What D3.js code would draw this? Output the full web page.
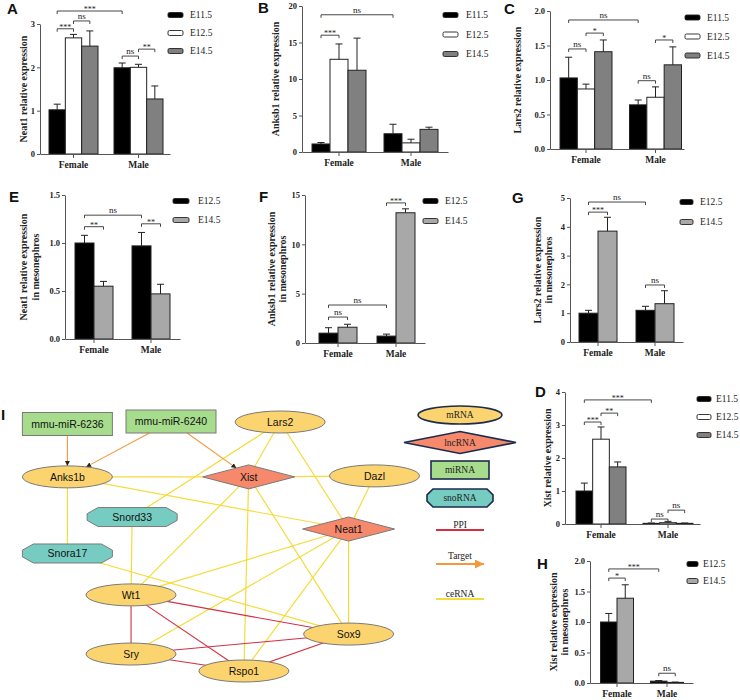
<!DOCTYPE html>
<html>
<head>
<meta charset="utf-8">
<script src="https://cdn.jsdelivr.net/npm/d3@7"></script>
<style>
  body { margin: 0; background: #fff; }
  svg { display: block; }
  .axis path, .axis line { stroke: #555; stroke-width: 1; }
  .axis .tick text { font-family: "Liberation Serif", serif; font-weight: bold; font-size: 8.5px; fill: #222; }
  .xaxis .tick text { font-size: 9.5px; }
  .ylab { font-family: "Liberation Serif", serif; font-weight: bold; font-size: 10px; fill: #222; }
  .leg { font-family: "Liberation Serif", serif; font-size: 9.5px; fill: #222; }
  .sig { font-family: "Liberation Serif", serif; font-size: 9px; fill: #222; }
  .letter { font-family: "Liberation Sans", sans-serif; font-weight: bold; font-size: 15px; fill: #111; }
  .node text { font-family: "Liberation Sans", sans-serif; font-size: 10.5px; fill: #111; }
</style>
</head>
<body>
<div class="chart"></div>
<script>
// ---- data ----
const groups = ['Female', 'Male'];
const stages3 = ['E11.5', 'E12.5', 'E14.5'];
const stages2 = ['E12.5', 'E14.5'];

// gonad (A-D), rows = Female, Male
const neat1Gonad = [[1.02, 2.68, 2.49], [1.99, 2.0, 1.27]];
const neat1GonadErr = [[0.13, 0.08, 0.35], [0.11, 0.07, 0.30]];
const anks1bGonad = [[1.1, 12.7, 11.2], [2.5, 1.25, 3.1]];
const anks1bGonadErr = [[0.2, 2.1, 4.4], [1.3, 0.5, 0.3]];
const lars2Gonad = [[1.03, 0.87, 1.41], [0.64, 0.75, 1.22]];
const lars2GonadErr = [[0.30, 0.07, 0.17], [0.07, 0.15, 0.26]];
const xistGonad = [[1.0, 2.57, 1.73], [0.02, 0.04, 0.02]];
const xistGonadErr = [[0.24, 0.37, 0.15], [0.01, 0.04, 0.01]];

// mesonephros (E-H)
const neat1Meso = [[1.0, 0.55], [0.97, 0.47]];
const neat1MesoErr = [[0.08, 0.05], [0.14, 0.10]];
const anks1bMeso = [[1.0, 1.6], [0.7, 13.2]];
const anks1bMesoErr = [[0.55, 0.3], [0.2, 0.4]];
const lars2Meso = [[1.0, 3.85], [1.1, 1.33]];
const lars2MesoErr = [[0.1, 0.48], [0.14, 0.45]];
const xistMeso = [[1.0, 1.39], [0.03, 0.01]];
const xistMesoErr = [[0.14, 0.22], [0.01, 0.005]];

// significance: [group a, series a, group b, series b, y value, label]
const sigNeat1Gonad = [[0,0,0,1,2.89,'***'],[0,1,0,2,3.07,'ns'],[0,0,1,0,3.3,'***'],[1,0,1,1,2.26,'ns'],[1,1,1,2,2.42,'**']];
const sigAnks1bGonad = [[0,0,0,1,16.0,'***'],[0,0,1,0,18.8,'ns']];
const sigLars2Gonad = [[0,0,1,0,1.87,'ns'],[0,0,0,1,1.45,'ns'],[0,1,0,2,1.68,'*'],[1,0,1,1,0.99,'ns'],[1,1,1,2,1.58,'*']];
const sigXistGonad = [[0,0,0,1,3.09,'***'],[0,1,0,2,3.36,'**'],[0,0,1,0,3.76,'***'],[1,0,1,1,0.15,'ns'],[1,1,1,2,0.42,'ns']];
const sigNeat1Meso = [[0,0,1,0,1.29,'ns'],[0,0,0,1,1.17,'**'],[1,0,1,1,1.2,'**']];
const sigAnks1bMeso = [[0,0,0,1,2.63,'ns'],[0,0,1,0,3.85,'ns'],[1,0,1,1,14.2,'***']];
const sigLars2Meso = [[0,0,1,0,4.86,'ns'],[0,0,0,1,4.51,'***'],[1,0,1,1,1.98,'ns']];
const sigXistMeso = [[0,0,1,0,1.87,'***'],[0,0,0,1,1.72,'*'],[1,0,1,1,0.16,'ns']];

const ticks3 = [0, 1, 2, 3];
const ticks4 = [0, 1, 2, 3, 4];
const ticks5 = [0, 1, 2, 3, 4, 5];
const ticks15 = [0, 5, 10, 15];
const ticks20 = [0, 5, 10, 15, 20];
const ticksHalf15 = [0, 0.5, 1.0, 1.5];
const ticksHalf2 = [0, 0.5, 1.0, 1.5, 2.0];

// network
const nodes = [
  { id: 'mmu-miR-6236', type: 'miRNA' },
  { id: 'mmu-miR-6240', type: 'miRNA' },
  { id: 'Lars2', type: 'mRNA' },
  { id: 'Anks1b', type: 'mRNA' },
  { id: 'Xist', type: 'lncRNA' },
  { id: 'Dazl', type: 'mRNA' },
  { id: 'Snord33', type: 'snoRNA' },
  { id: 'Neat1', type: 'lncRNA' },
  { id: 'Snora17', type: 'snoRNA' },
  { id: 'Wt1', type: 'mRNA' },
  { id: 'Sox9', type: 'mRNA' },
  { id: 'Sry', type: 'mRNA' },
  { id: 'Rspo1', type: 'mRNA' }
];
// layout grid (0-100) for the nodes above
const nodeGrid = {
  'mmu-miR-6236': [12, 1], 'mmu-miR-6240': [40, 0], 'Lars2': [69.5, 0.2],
  'Anks1b': [12, 22.2], 'Xist': [61, 22.2], 'Dazl': [95, 21.8],
  'Snord33': [29.5, 38.3], 'Neat1': [88, 43.1], 'Snora17': [12, 52.9],
  'Wt1': [29.2, 69.5], 'Sox9': [88, 85.2], 'Sry': [29.2, 93.2], 'Rspo1': [59.7, 100]
};
const targetEdges = [['mmu-miR-6236','Anks1b'],['mmu-miR-6240','Anks1b'],['mmu-miR-6240','Xist']];
const ceRNAEdges = [['Anks1b','Xist'],['Xist','Dazl'],['Anks1b','Neat1'],['Anks1b','Snora17'],['Lars2','Snord33'],
  ['Lars2','Xist'],['Lars2','Neat1'],['Dazl','Neat1'],['Snord33','Wt1'],['Snora17','Sox9'],['Xist','Wt1'],
  ['Xist','Rspo1'],['Xist','Sox9'],['Neat1','Wt1'],['Neat1','Sry'],['Neat1','Rspo1'],['Neat1','Sox9']];
const ppiEdges = [['Wt1','Sry'],['Wt1','Rspo1'],['Wt1','Sox9'],['Sry','Sox9'],['Sry','Rspo1'],['Rspo1','Sox9']];
const legendTypes = ['mRNA', 'lncRNA', 'miRNA', 'snoRNA'];
const legendEdges = ['PPI', 'Target', 'ceRNA'];

// ---- styles ----
const gonadFills = ['#000', '#fff', '#808080'];
const mesoFills = ['#000', '#a8a8a8'];
const typeFill = { mRNA: '#fbd46f', lncRNA: '#f6886b', miRNA: '#a6dc8c', snoRNA: '#76ccc1' };
const edgeColor = { PPI: '#d42f44', Target: '#f2993b', ceRNA: '#f5dc3a' };
const serif = '"Liberation Serif", "DejaVu Serif", serif';

const svg = d3.select('.chart').append('svg').attr('width', 740).attr('height', 700);

const panels = [
  { letter: 'A', mean: neat1Gonad, err: neat1GonadErr, series: stages3, fills: gonadFills, yMax: 3, ticks: ticks3, fmt: d3.format('d'),
    ylab: ['Neat1 relative expression'], sig: sigNeat1Gonad,
    x0: 40, x1: 170, yTop: 24, yBot: 154, c1: 73.5, c2: 138.5, w: 49, lt: [7, 14], lx: [23], leg: { x: 168, y: 15, dy: 18, w: 15, tx: 190 } },
  { letter: 'B', mean: anks1bGonad, err: anks1bGonadErr, series: stages3, fills: gonadFills, yMax: 20, ticks: ticks20, fmt: d3.format('d'),
    ylab: ['Anksb1 relative expression'], sig: sigAnks1bGonad,
    x0: 302, x1: 448, yTop: 6, yBot: 152, c1: 339, c2: 411, w: 54, lt: [258, 13], lx: [275], leg: { x: 443, y: 15, dy: 19.5, w: 15, tx: 466 } },
  { letter: 'C', mean: lars2Gonad, err: lars2GonadErr, series: stages3, fills: gonadFills, yMax: 2, ticks: ticksHalf2, fmt: d3.format('.1f'),
    ylab: ['Lars2 relative expression'], sig: sigLars2Gonad,
    x0: 550, x1: 684, yTop: 11, yBot: 149, c1: 586, c2: 655.5, w: 52, lt: [504, 14], lx: [517], leg: { x: 685, y: 17.5, dy: 19, w: 15, tx: 707 } },
  { letter: 'D', mean: xistGonad, err: xistGonadErr, series: stages3, fills: gonadFills, yMax: 4, ticks: ticks4, fmt: d3.format('d'),
    ylab: ['Xist relative expression'], sig: sigXistGonad,
    x0: 565, x1: 700, yTop: 392, yBot: 524, c1: 601, c2: 668, w: 50, lt: [535, 397], lx: [547], leg: { x: 697, y: 399, dy: 18, w: 14, tx: 716 } },
  { letter: 'E', mean: neat1Meso, err: neat1MesoErr, series: stages2, fills: mesoFills, yMax: 1.5, ticks: ticksHalf15, fmt: d3.format('.1f'),
    ylab: ['Neat1 relative expression', 'in mesonephros'], sig: sigNeat1Meso,
    x0: 65, x1: 180, yTop: 195, yBot: 339, c1: 94, c2: 151, w: 38, lt: [9, 202], lx: [23, 35], leg: { x: 173, y: 201, dy: 19, w: 16, tx: 198 } },
  { letter: 'F', mean: anks1bMeso, err: anks1bMesoErr, series: stages2, fills: mesoFills, yMax: 15, ticks: ticks15, fmt: d3.format('d'),
    ylab: ['Anksb1 relative expression', 'in mesonephros'], sig: sigAnks1bMeso,
    x0: 305, x1: 425, yTop: 195, yBot: 343, c1: 338, c2: 396, w: 38, lt: [259, 202], lx: [271, 282], leg: { x: 423, y: 201, dy: 20, w: 15, tx: 445 } },
  { letter: 'G', mean: lars2Meso, err: lars2MesoErr, series: stages2, fills: mesoFills, yMax: 5, ticks: ticks5, fmt: d3.format('d'),
    ylab: ['Lars2 relative expression', 'in mesonephros'], sig: sigLars2Meso,
    x0: 570, x1: 683, yTop: 198, yBot: 342, c1: 598, c2: 655, w: 38, lt: [512, 203], lx: [537, 548], leg: { x: 680, y: 202, dy: 20, w: 13, tx: 700 } },
  { letter: 'H', mean: xistMeso, err: xistMesoErr, series: stages2, fills: mesoFills, yMax: 2, ticks: ticksHalf2, fmt: d3.format('.1f'),
    ylab: ['Xist relative expression', 'in mesonephros'], sig: sigXistMeso,
    x0: 590, x1: 693, yTop: 561, yBot: 683, c1: 617, c2: 667, w: 33, lt: [537, 569], lx: [553, 564], leg: { x: 687, y: 564, dy: 17, w: 11, tx: 703 } }
];

function drawPanel(p) {
  const g = svg.append('g');
  const step = p.c2 - p.c1;
  const pi = 1 - p.w / step;
  const slack = (p.x1 - p.x0) - step * (2 - pi);
  const x = d3.scaleBand().domain(groups).range([p.x0, p.x1])
    .paddingInner(pi).paddingOuter(slack / step / 2)
    .align((p.c1 - p.w / 2 - p.x0) / slack);
  const xs = d3.scaleBand().domain(p.series).range([0, x.bandwidth()]);
  const y = d3.scaleLinear().domain([0, p.yMax]).range([p.yBot, p.yTop]);
  const cx = (gi, si) => x(groups[gi]) + xs(p.series[si]) + xs.bandwidth() / 2;

  const flat = [];
  p.mean.forEach((row, gi) => row.forEach((v, si) => flat.push({ gi, si, v, e: p.err[gi][si] })));

  // bars
  g.selectAll('.bar').data(flat).enter().append('rect')
    .attr('x', d => x(groups[d.gi]) + xs(p.series[d.si]))
    .attr('y', d => y(d.v))
    .attr('width', xs.bandwidth())
    .attr('height', d => p.yBot - y(d.v))
    .attr('fill', d => p.fills[d.si])
    .attr('stroke', '#222').attr('stroke-width', 1);

  // error bars (upper only)
  g.selectAll('.err').data(flat).enter().append('path')
    .attr('d', d => `M${cx(d.gi, d.si)},${y(d.v)}V${y(d.v + d.e)}M${cx(d.gi, d.si) - 3.5},${y(d.v + d.e)}h7`)
    .attr('stroke', '#222').attr('fill', 'none').attr('stroke-width', 1);

  // axes
  g.append('g').attr('class', 'axis xaxis')
    .attr('transform', `translate(0,${p.yBot})`)
    .call(d3.axisBottom(x).tickSize(4).tickSizeOuter(0).tickPadding(3))
    .attr('font-family', serif);
  g.append('g').attr('class', 'axis')
    .attr('transform', `translate(${p.x0},0)`)
    .call(d3.axisLeft(y).tickValues(p.ticks).tickFormat(p.fmt).tickSize(3).tickSizeOuter(0).tickPadding(2))
    .attr('font-family', serif);

  // y label
  const mid = (p.yTop + p.yBot) / 2;
  p.ylab.forEach((t, i) => {
    g.append('text').attr('class', 'ylab')
      .attr('transform', `translate(${p.lx[i]},${mid}) rotate(-90)`)
      .attr('text-anchor', 'middle').attr('dy', '0.35em').text(t);
  });

  // significance brackets
  p.sig.forEach(s => {
    const xa = cx(s[0], s[1]), xb = cx(s[2], s[3]), yy = y(s[4]);
    g.append('path').attr('d', `M${xa},${yy + 3}V${yy}H${xb}V${yy + 3}`)
      .attr('stroke', '#333').attr('fill', 'none').attr('stroke-width', 0.9);
    g.append('text').attr('class', 'sig')
      .attr('x', (xa + xb) / 2).attr('y', s[5] === 'ns' ? yy - 2 : yy + 1)
      .attr('text-anchor', 'middle')
      .style('font-size', s[5] === 'ns' ? '9px' : '8px')
      .text(s[5]);
  });

  // legend
  p.series.forEach((s, i) => {
    const ly = p.leg.y + i * p.leg.dy;
    g.append('rect').attr('x', p.leg.x).attr('y', ly - 2.5)
      .attr('width', p.leg.w).attr('height', 5).attr('rx', 1.5)
      .attr('fill', p.fills[i]).attr('stroke', '#222').attr('stroke-width', 0.9);
    g.append('text').attr('class', 'leg').attr('x', p.leg.tx).attr('y', ly).attr('dy', '0.35em').text(s);
  });

  g.append('text').attr('class', 'letter').attr('x', p.lt[0]).attr('y', p.lt[1]).text(p.letter);
}

panels.forEach(drawPanel);

// ---- network (I) ----
const netX = d3.scaleLinear().domain([0, 100]).range([23, 393]);
const netY = d3.scaleLinear().domain([0, 100]).range([421.5, 671]);
const shapeSize = { mRNA: [45, 11], lncRNA: [46, 12], miRNA: [45, 11.5], snoRNA: [45, 9.5] };
const byId = {};
nodes.forEach(n => {
  n.x = netX(nodeGrid[n.id][0]);
  n.y = netY(nodeGrid[n.id][1]);
  [n.hw, n.hh] = shapeSize[n.type];
  byId[n.id] = n;
});

function octagon(hw, hh, c) {
  const v = hh * 0.35;
  return `M${-hw},${-v}L${-hw + c},${-hh}L${hw - c},${-hh}L${hw},${-v}L${hw},${v}L${hw - c},${hh}L${-hw + c},${hh}L${-hw},${v}Z`;
}
function diamond(hw, hh) { return `M${-hw},0L0,${-hh}L${hw},0L0,${hh}Z`; }

// distance factor to shape border along (dx, dy)
function edgeT(n, dx, dy) {
  if (n.type === 'mRNA') return 1 / Math.sqrt((dx / n.hw) ** 2 + (dy / n.hh) ** 2);
  if (n.type === 'lncRNA') return 1 / (Math.abs(dx) / n.hw + Math.abs(dy) / n.hh);
  return Math.min(n.hw / Math.abs(dx || 1e-6), n.hh / Math.abs(dy || 1e-6));
}

const defs = svg.append('defs');
defs.append('marker').attr('id', 'arr').attr('viewBox', '0 -3 6 6')
  .attr('refX', 6).attr('refY', 0).attr('markerWidth', 5).attr('markerHeight', 5)
  .attr('markerUnits', 'userSpaceOnUse').attr('orient', 'auto')
  .append('path').attr('d', 'M0,-3L6,0L0,3Z').attr('fill', '#222');
defs.append('marker').attr('id', 'arrLeg').attr('viewBox', '0 -5 10 10')
  .attr('refX', 10).attr('refY', 0).attr('markerWidth', 10).attr('markerHeight', 9)
  .attr('markerUnits', 'userSpaceOnUse').attr('orient', 'auto')
  .append('path').attr('d', 'M0,-5L10,0L0,5Z').attr('fill', edgeColor.Target);

const net = svg.append('g');
function drawEdges(list, kind) {
  net.selectAll(null).data(list).enter().append('line')
    .each(function (e) {
      const a = byId[e[0]], b = byId[e[1]];
      const dx = b.x - a.x, dy = b.y - a.y;
      const ta = kind === 'Target' ? edgeT(a, dx, dy) : 0;
      const tb = kind === 'Target' ? 1 - edgeT(b, -dx, -dy) : 1;
      d3.select(this)
        .attr('x1', a.x + dx * ta).attr('y1', a.y + dy * ta)
        .attr('x2', a.x + dx * tb).attr('y2', a.y + dy * tb);
    })
    .attr('stroke', edgeColor[kind]).attr('stroke-width', kind === 'ceRNA' ? 1.2 : 1.1)
    .attr('marker-end', kind === 'Target' ? 'url(#arr)' : null);
}
drawEdges(ceRNAEdges, 'ceRNA');
drawEdges(ppiEdges, 'PPI');
drawEdges(targetEdges, 'Target');

function drawShape(sel, type, hw, hh) {
  if (type === 'mRNA') sel.append('ellipse').attr('rx', hw).attr('ry', hh);
  else if (type === 'lncRNA') sel.append('path').attr('d', diamond(hw, hh));
  else if (type === 'miRNA') sel.append('rect').attr('x', -hw).attr('y', -hh).attr('width', 2 * hw).attr('height', 2 * hh);
  else sel.append('path').attr('d', octagon(hw, hh, 11));
  return sel.select(':first-child').attr('fill', typeFill[type]);
}

const nodeG = net.selectAll('.node').data(nodes).enter().append('g')
  .attr('class', 'node').attr('transform', d => `translate(${d.x},${d.y})`);
nodeG.each(function (d) {
  drawShape(d3.select(this), d.type, d.hw, d.hh).attr('stroke', '#7a7a7a').attr('stroke-width', 1);
});
nodeG.append('text').attr('text-anchor', 'middle').attr('dy', '0.36em').text(d => d.id);

// network legend
const legX = 460;
const legShape = { mRNA: [42, 9, 415], lncRNA: [56, 11, 442.5], miRNA: [29, 9, 470], snoRNA: [33, 9, 498] };
legendTypes.forEach(t => {
  const [hw, hh, ly] = legShape[t];
  const lg = svg.append('g').attr('transform', `translate(${legX},${ly})`);
  const sh = drawShape(lg, t, hw, hh).attr('stroke', '#1d2b4f').attr('stroke-width', 1.6);
  if (t === 'snoRNA') sh.attr('d', octagon(hw, hh, 6));
  lg.append('text').attr('class', 'leg').attr('text-anchor', 'middle').attr('dy', '0.35em').text(t);
});
const legLineY = { PPI: 530, Target: 564, ceRNA: 599 };
legendEdges.forEach(t => {
  const ly = legLineY[t];
  svg.append('line').attr('x1', legX - 24).attr('x2', legX + 24).attr('y1', ly).attr('y2', ly)
    .attr('stroke', edgeColor[t]).attr('stroke-width', 2)
    .attr('marker-end', t === 'Target' ? 'url(#arrLeg)' : null);
  svg.append('text').attr('class', 'leg').attr('x', legX).attr('y', ly - (t === 'Target' ? 5 : 2))
    .attr('text-anchor', 'middle').text(t);
});

svg.append('text').attr('class', 'letter').attr('x', 1).attr('y', 420).text('I');
</script>
</body>
</html>
